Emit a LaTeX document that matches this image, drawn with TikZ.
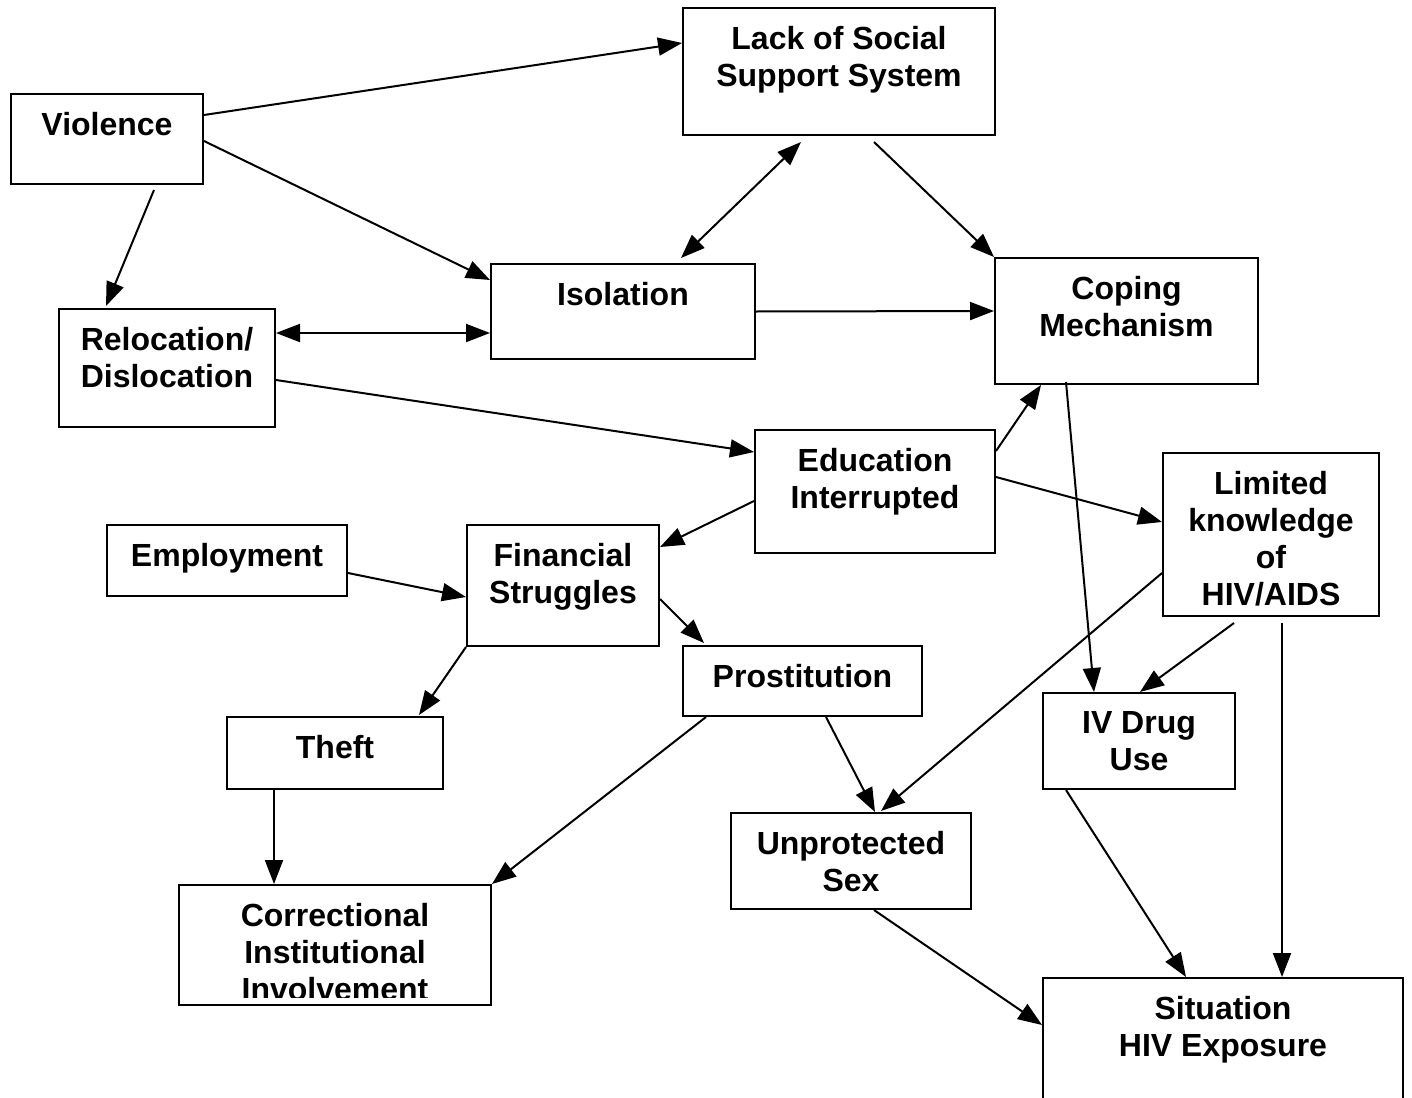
\documentclass[tikz,border=0pt]{standalone}
\usepackage{fontspec}
\setmainfont{Liberation Sans}
\usetikzlibrary{arrows.meta,calc,fit}
\begin{document}
\begin{tikzpicture}[x=0.5pt,y=-0.5pt,
  box/.style={draw, line width=1pt, inner sep=0pt},
  lbl/.style={anchor=north, inner sep=0pt, align=center,
    font=\fontsize{16}{18.5}\selectfont\bfseries, yshift=-9.5pt},
  conn/.style={line width=1pt, -{Triangle[length=12pt,width=9pt]}},
  biconn/.style={line width=1pt, {Triangle[length=12pt,width=9pt]}-{Triangle[length=12pt,width=9pt]}}]
\path[use as bounding box, clip] (0,0) rectangle (1412,1097);
\fill[white] (0,0) rectangle (1412,1097);

% boxes
\node[box, fit={(11,94) (203,184)}, label={[lbl]north:{Violence}}] (viol) {};
\node[box, fit={(683,8) (995,135)}, label={[lbl]north:{Lack of Social\\Support System}}] (lack) {};
\node[box, fit={(491,264) (755,359)}, label={[lbl]north:{Isolation}}] (iso) {};
\node[box, fit={(59,309) (275,427)}, label={[lbl]north:{Relocation/\\Dislocation}}] (reloc) {};
\node[box, fit={(995,258) (1258,384)}, label={[lbl]north:{Coping\\Mechanism}}] (cope) {};
\node[box, fit={(755,430) (995,553)}, label={[lbl]north:{Education\\Interrupted}}] (edu) {};
\node[box, fit={(1163,453) (1379,616)}, label={[lbl]north:{Limited\\knowledge\\of\\HIV/AIDS}}] (lim) {};
\node[box, fit={(107,525) (347,596)}, label={[lbl]north:{Employment}}] (emp) {};
\node[box, fit={(467,525) (659,646)}, label={[lbl]north:{Financial\\Struggles}}] (fin) {};
\node[box, fit={(683,646) (922,716)}, label={[lbl]north:{Prostitution}}] (pros) {};
\node[box, fit={(227,717) (443,789)}, label={[lbl]north:{Theft}}] (theft) {};
\node[box, fit={(1043,693) (1235,789)}, label={[lbl]north:{IV Drug\\Use}}] (ivd) {};
\node[box, fit={(731,813) (971,909)}, label={[lbl]north:{Unprotected\\Sex}}] (unp) {};
\node[box, fit={(179,885) (491,1005)}] (corr) {};
\node[box, fit={(1043,978) (1403,1115)}, label={[lbl]north:{Situation\\HIV Exposure}}] (sit) {};

\begin{scope}
  \clip (corr.north west) rectangle ($(corr.south east)+(0,-9)$);
  \node[lbl] (corrtext) at (corr.north) {Correctional\\Institutional\\Involvement};
\end{scope}

% connectors
\draw[conn] ($(viol.north east)+(0,22)$) -- ($(lack.north west)+(0,36)$);
\draw[conn] ($(viol.north east)+(0,48)$) -- ($(iso.north west)+(0,17)$);
\draw[conn] ($(viol.south west)+(144,5)$) -- ($(reloc.north west)+(48,-2)$);
\draw[biconn] ($(lack.south west)+(119,6)$) -- ($(iso.north west)+(191,-5)$);
\draw[conn] ($(lack.south west)+(192,6)$) -- (cope.north west);
\draw[conn] (iso.east) -- ($(cope.north west)+(0,54)$);
\draw[biconn] ($(reloc.north east)+(0,25)$) -- ($(iso.north west)+(0,70)$);
\draw[conn] ($(reloc.north east)+(0,72)$) -- ($(edu.north west)+(0,23)$);
\draw[conn] ($(edu.north east)+(0,22)$) -- ($(cope.south west)+(47,0)$);
\draw[conn] ($(edu.north east)+(0,48)$) -- ($(lim.north west)+(0,70)$);
\draw[conn] ($(edu.north west)+(0,72)$) -- ($(fin.north east)+(0,23)$);
\draw[conn] ($(cope.south west)+(72,-3)$) -- ($(ivd.north west)+(52,0)$);
\draw[conn] ($(emp.north east)+(0,49)$) -- ($(fin.north west)+(0,73)$);
\draw[conn] ($(fin.north east)+(0,75)$) -- ($(pros.north west)+(22,-2)$);
\draw[conn] (fin.south west) -- ($(theft.north west)+(193,-1)$);
\draw[conn] ($(lim.south west)+(72,6)$) -- ($(ivd.north west)+(98,0)$);
\draw[conn] ($(lim.north west)+(0,121)$) -- ($(unp.north west)+(151,-1)$);
\draw[conn] ($(lim.south west)+(120,6)$) -- ($(sit.north west)+(240,0)$);
\draw[conn] ($(pros.south west)+(144,0)$) -- ($(unp.north west)+(145,0)$);
\draw[conn] ($(pros.south west)+(24,0)$) -- (corr.north east);
\draw[conn] ($(theft.south west)+(48,0)$) -- ($(corr.north west)+(96,0)$);
\draw[conn] ($(ivd.south west)+(24,0)$) -- ($(sit.north west)+(144,0)$);
\draw[conn] ($(unp.south west)+(144,0)$) -- ($(sit.north west)+(0,48)$);
\end{tikzpicture}
\end{document}
